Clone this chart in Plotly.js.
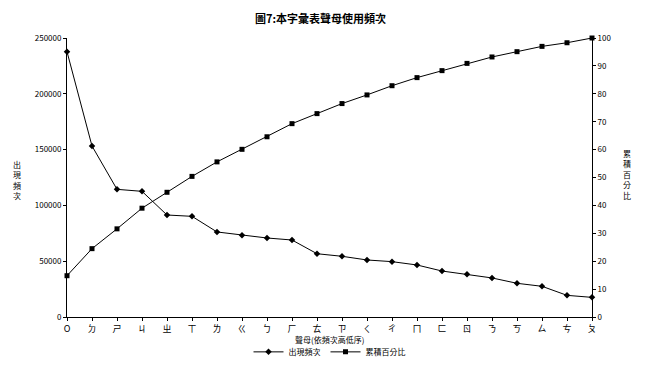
<!DOCTYPE html>
<html>
<head>
<meta charset="utf-8">
<script src="https://cdn.plot.ly/plotly-3.0.1.min.js"></script>
<style>
html,body{margin:0;padding:0;background:#fff;}
#chart{width:645px;height:370px;}
</style>
</head>
<body>
<div id="chart"></div>
<script>
// Categories (initials ordered by frequency)
const categories = ["O","ㄉ","ㄕ","ㄐ","ㄓ","ㄒ","ㄌ","ㄍ","ㄅ","ㄏ","ㄊ","ㄗ","ㄑ","ㄔ","ㄇ","ㄈ","ㄖ","ㄋ","ㄎ","ㄙ","ㄘ","ㄆ"];
// Frequency (left axis)
const frequency = [237700,153200,114400,112600,91400,90200,76200,73200,70800,69000,56700,54400,51100,49600,46600,41200,38200,35000,30200,27500,19400,17600];
// Cumulative percentage (right axis)
const cumulative = [14.8,24.5,31.6,39.0,44.7,50.4,55.6,60.1,64.6,69.3,72.9,76.5,79.6,82.9,85.8,88.3,90.9,93.2,95.1,97.0,98.3,100];

const titleText = "圖7:本字彙表聲母使用頻次";
const xTitle = "聲母(依頻次高低序)";
const leftName = "出現頻次";
const rightName = "累積百分比";

const cjk = "'Noto Sans CJK TC', 'Noto Sans CJK SC', sans-serif";

const traces = [
  {
    x: categories, y: frequency, name: leftName, type: 'scatter', mode: 'lines+markers',
    line: {color: '#000', width: 1},
    marker: {symbol: 'diamond', size: 5, color: '#000'},
    yaxis: 'y', cliponaxis: false
  },
  {
    x: categories, y: cumulative, name: rightName, type: 'scatter', mode: 'lines+markers',
    line: {color: '#000', width: 1},
    marker: {symbol: 'square', size: 5, color: '#000'},
    yaxis: 'y2', cliponaxis: false
  }
];

const layout = {
  width: 645, height: 370,
  paper_bgcolor: '#fff', plot_bgcolor: '#fff',
  margin: {l: 67, r: 53, t: 38, b: 53, autoexpand: false},
  font: {family: cjk, size: 9, color: '#000'},
  title: {text: titleText, x: 0.497, xanchor: 'center', y: 0.948, yanchor: 'middle',
          font: {family: cjk, size: 11, color: '#000', weight: 'bold'}},
  showlegend: true,
  legend: {orientation: 'h', x: 0.5, xanchor: 'center', yref: 'container', y: 0.049, yanchor: 'middle',
           font: {family: cjk, size: 8, color: '#000'}, tracegroupgap: 0},
  xaxis: {
    type: 'category', range: [0, 21], showgrid: false, zeroline: false, automargin: false,
    showline: true, linecolor: '#000', linewidth: 1,
    ticks: 'outside', ticklen: 3, tickcolor: '#000',
    tickfont: {family: cjk, size: 9, color: '#000'}
  },
  yaxis: {
    range: [0, 250000], dtick: 50000, tickformat: 'd', showgrid: false, zeroline: false, automargin: false,
    showline: true, linecolor: '#000', linewidth: 1,
    ticks: 'outside', ticklen: 3, tickcolor: '#000',
    tickfont: {family: cjk, size: 8, color: '#000'}
  },
  yaxis2: {
    range: [0, 100], dtick: 10, overlaying: 'y', side: 'right', showgrid: false, zeroline: false, automargin: false,
    showline: true, linecolor: '#000', linewidth: 1,
    ticks: 'outside', ticklen: 3, tickcolor: '#000',
    tickfont: {family: cjk, size: 8, color: '#000'}
  },
  annotations: [
    {text: xTitle, xref: 'paper', yref: 'paper',
     x: 0.5, y: -0.082, xanchor: 'center', yanchor: 'middle', showarrow: false,
     font: {family: cjk, size: 8, color: '#000'}},
    {text: leftName.split('').join('<br>'), xref: 'paper', yref: 'paper',
     x: -0.095, y: 0.49, xanchor: 'center', yanchor: 'middle', showarrow: false,
     font: {family: cjk, size: 8, color: '#000'}},
    {text: rightName.split('').join('<br>'), xref: 'paper', yref: 'paper',
     x: 1.067, y: 0.51, xanchor: 'center', yanchor: 'middle', showarrow: false,
     font: {family: cjk, size: 8, color: '#000'}}
  ]
};

Plotly.newPlot('chart', traces, layout, {displayModeBar: false, staticPlot: true});
</script>
</body>
</html>
